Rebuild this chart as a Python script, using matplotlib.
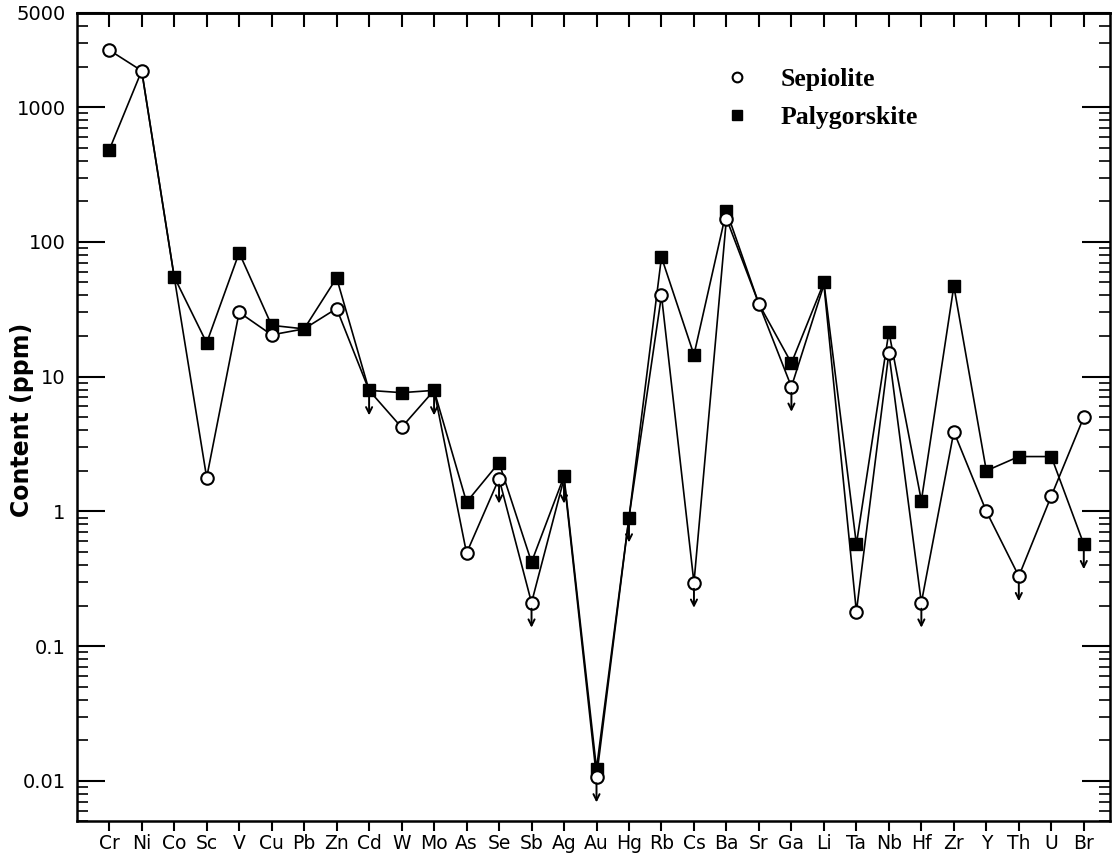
import matplotlib
matplotlib.use('Agg')
import matplotlib.pyplot as plt
import numpy as np
from matplotlib.lines import Line2D
from matplotlib.transforms import offset_copy
from matplotlib.ticker import LogLocator, NullFormatter

# elements along the x axis
elements = ['Cr', 'Ni', 'Co', 'Sc', 'V', 'Cu', 'Pb', 'Zn', 'Cd', 'W', 'Mo',
            'As', 'Se', 'Sb', 'Ag', 'Au', 'Hg', 'Rb', 'Cs', 'Ba', 'Sr', 'Ga',
            'Li', 'Ta', 'Nb', 'Hf', 'Zr', 'Y', 'Th', 'U', 'Br']

# content in ppm
sepiolite = [2650, 1860, 55, 1.78, 30, 20.4, 22.6, 32, 7.9, 4.2, 7.9,
             0.49, 1.75, 0.21, 1.75, 0.0106, 0.90, 40, 0.295, 149, 34.6, 8.4,
             48, 0.18, 15, 0.21, 3.9, 1.0, 0.33, 1.3, 5.0]
palygorskite = [480, 1860, 55, 17.8, 83, 24, 22.6, 54, 7.9, 7.6, 7.9,
                1.17, 2.3, 0.42, 1.82, 0.0123, 0.90, 77, 14.5, 170, 34.6, 12.6,
                50, 0.57, 21.5, 1.2, 47, 2.0, 2.55, 2.55, 0.57]

# values given as "less than" (drawn with a down arrow)
sep_below = ['Cd', 'Mo', 'Se', 'Sb', 'Ag', 'Au', 'Cs', 'Ga', 'Hf', 'Th']
pal_below = ['Hg', 'Br']

# points where one symbol hides under the other
sep_hidden = ['Co', 'Pb', 'Cd', 'Hg', 'Li', 'Ag', 'Mo']
pal_hidden = ['Ni', 'Sr']

x = np.arange(len(elements))
sep = np.array(sepiolite, dtype=float)
pal = np.array(palygorskite, dtype=float)

fig = plt.figure(figsize=(11.12, 8.61), dpi=100)
ax = fig.add_axes([0.069, 0.046, 0.929, 0.939])

# lines
ax.plot(x, pal, '-', color='k', lw=1.2, zorder=2)
ax.plot(x, sep, '-', color='k', lw=1.2, zorder=2)

# markers
pal_m = np.where(np.isin(elements, pal_hidden), np.nan, pal)
sep_m = np.where(np.isin(elements, sep_hidden), np.nan, sep)
ax.plot(x, pal_m, 's', ms=9, mfc='k', mec='k', zorder=3)
ax.plot(x, sep_m, 'o', ms=9, mfc='white', mec='k', mew=1.5, zorder=4)

# down arrows for detection limits
tail = offset_copy(ax.transData, fig=fig, y=-6, units='dots')
tip = offset_copy(ax.transData, fig=fig, y=-25, units='dots')
for names, vals in ((sep_below, sep), (pal_below, pal)):
    for name in names:
        i = elements.index(name)
        ax.annotate('', xy=(i, vals[i]), xycoords=tip,
                    xytext=(i, vals[i]), textcoords=tail,
                    arrowprops=dict(arrowstyle='->', lw=1.4, color='k',
                                    shrinkA=0, shrinkB=0, mutation_scale=11),
                    zorder=5)

ax.set_yscale('log')
ax.set_ylim(0.005, 5000)
ax.set_xlim(-1.0, 30.8)

ax.set_xticks(x)
ax.set_xticklabels(elements, fontsize=13.5)
ax.set_yticks([0.01, 0.1, 1, 10, 100, 1000, 5000])
ax.set_yticklabels(['0.01', '0.1', '1', '10', '100', '1000', '5000'], fontsize=14)
ax.yaxis.set_minor_locator(LogLocator(base=10, subs=np.arange(2, 10)))
ax.yaxis.set_minor_formatter(NullFormatter())

ax.tick_params(axis='x', which='both', direction='out', length=7, width=1.5,
               top=False, pad=2)
ax.tick_params(axis='y', which='major', direction='in', length=20, width=1.5,
               right=True, pad=8)
ax.tick_params(axis='y', which='minor', direction='in', length=8, width=1.2,
               right=True)

# top ticks go inward while bottom ones go outward
top = ax.secondary_xaxis('top')
top.set_xticks(x)
top.set_xticklabels([])
top.tick_params(direction='in', length=10, width=1.5)

for sp in ax.spines.values():
    sp.set_linewidth(1.8)
top.spines['top'].set_linewidth(1.8)

ax.set_ylabel('Content (ppm)', fontsize=17, fontweight='bold')
ax.yaxis.set_label_coords(-0.041, 0.497)

handles = [Line2D([], [], ls='none', marker='o', ms=7, mfc='white', mec='k', mew=1.5),
           Line2D([], [], ls='none', marker='s', ms=7, mfc='k', mec='k')]
ax.legend(handles, ['Sepiolite', 'Palygorskite'], loc='upper left',
          bbox_to_anchor=(0.627, 0.932), frameon=False, borderpad=0,
          borderaxespad=0, handlelength=1.0, handletextpad=1.2,
          labelspacing=0.6,
          prop={'family': 'Liberation Serif', 'weight': 'bold', 'size': 18.5})

fig.savefig('out.png', dpi=100)
